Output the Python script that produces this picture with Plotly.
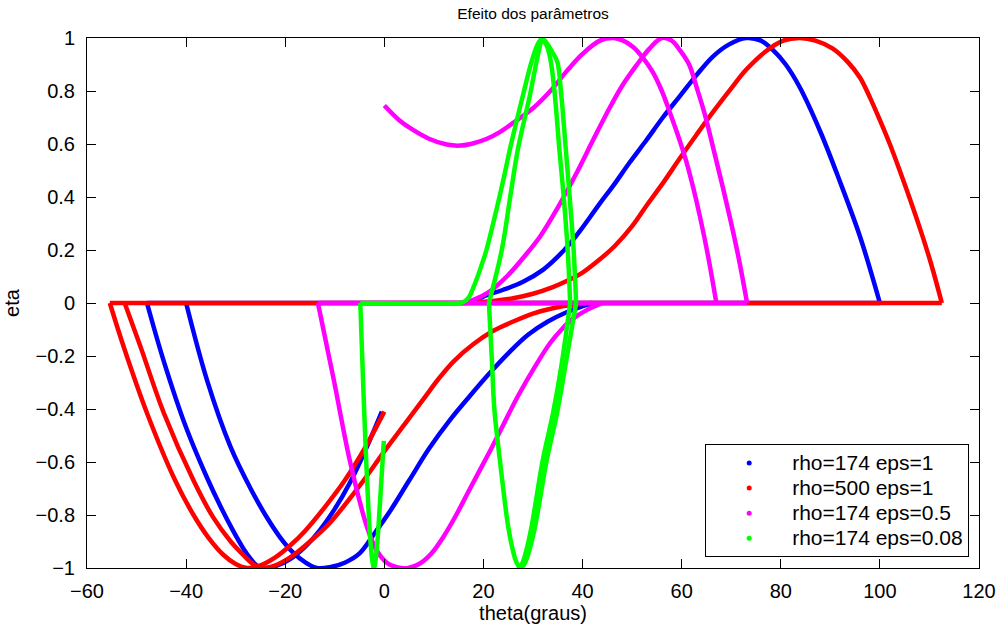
import plotly.graph_objects as go

# ---------------- data ----------------
# rho=174 eps=1  (blue)
blue_flat_theta = [-47.9, 100.0]
blue_flat_eta = [0.0, 0.0]
blue_a_theta = [-47.9, -44.5, -40.0, -36.0, -33.0, -30.5, -28.5, -27.0, -25.8, -24.5, -22.0, -19.0, -16.0, -13.0, -10.0, -7.0, -4.0, -0.5]
blue_a_eta = [0.0, -0.22, -0.47, -0.65, -0.77, -0.86, -0.925, -0.965, -0.99, -1.0, -0.993, -0.966, -0.92, -0.857, -0.777, -0.68, -0.563, -0.41]
blue_b_theta = [-40.0, -35.8, -31.1, -27.0, -24.0, -21.0, -18.5, -16.0, -13.6, -11.0, -8.0, -5.0, -2.0, 1.0, 5.0, 9.0, 13.3, 17.3, 21.0, 25.0, 29.0, 33.0, 37.0, 40.0, 42.0]
blue_b_eta = [0.0, -0.29, -0.54, -0.7, -0.8, -0.885, -0.94, -0.978, -1.0, -0.997, -0.98, -0.945, -0.87, -0.79, -0.67, -0.55, -0.44, -0.35, -0.27, -0.19, -0.12, -0.07, -0.033, -0.012, 0.0]
blue_up_theta = [16.0, 18.0, 20.7, 24.0, 28.0, 32.0, 35.0, 37.5, 40.0, 43.5, 46.1, 49.5, 52.9, 56.2, 59.6, 63.0, 66.3, 69.5, 73.0, 76.0, 78.4, 81.0, 83.8, 87.9, 91.9, 96.0, 100.0]
blue_up_eta = [0.0, 0.008, 0.03, 0.05, 0.08, 0.125, 0.175, 0.225, 0.285, 0.376, 0.44, 0.53, 0.615, 0.7, 0.78, 0.86, 0.93, 0.975, 1.0, 0.99, 0.955, 0.9, 0.815, 0.65, 0.46, 0.25, 0.0]

# rho=500 eps=1  (red)
red_flat_theta = [-55.4, 112.5]
red_flat_eta = [0.0, 0.0]
red_a_theta = [-55.4, -52.6, -47.9, -42.2, -38.5, -35.5, -32.5, -30.0, -27.7, -25.0, -22.0, -19.0, -16.0, -12.0, -8.0, -4.0, 0.0]
red_a_eta = [0.0, -0.165, -0.415, -0.67, -0.8, -0.885, -0.95, -0.985, -1.0, -0.99, -0.96, -0.915, -0.86, -0.77, -0.67, -0.55, -0.41]
red_b_theta = [-52.4, -49.2, -44.5, -38.5, -34.5, -31.0, -28.5, -26.5, -24.8, -22.0, -19.0, -15.0, -11.0, -5.0, 0.0, 4.0, 8.0, 11.0, 14.0, 18.0, 22.0, 26.0, 30.0, 34.0, 38.0, 42.0]
red_b_eta = [0.0, -0.165, -0.415, -0.67, -0.81, -0.9, -0.95, -0.985, -1.0, -0.99, -0.96, -0.9, -0.83, -0.69, -0.56, -0.46, -0.36, -0.285, -0.22, -0.155, -0.105, -0.07, -0.04, -0.02, -0.007, 0.0]
red_up_theta = [16.0, 22.0, 26.0, 30.0, 34.0, 37.0, 40.0, 43.5, 46.5, 50.0, 53.0, 56.5, 59.6, 63.0, 66.3, 70.0, 73.0, 77.0, 80.5, 83.8, 87.0, 90.5, 93.5, 96.0, 98.0, 100.0, 102.0, 104.2, 106.2, 108.2, 110.3, 112.5]
red_up_eta = [0.0, 0.008, 0.018, 0.035, 0.06, 0.085, 0.115, 0.165, 0.215, 0.29, 0.37, 0.46, 0.545, 0.635, 0.72, 0.81, 0.88, 0.95, 0.99, 1.0, 0.99, 0.96, 0.91, 0.85, 0.775, 0.69, 0.6, 0.49, 0.385, 0.275, 0.15, 0.0]

# rho=174 eps=0.5  (magenta)
mag_flat_theta = [-13.4, 73.2]
mag_flat_eta = [0.0, 0.0]
mag_low_theta = [-13.4, -10.2, -6.9, -3.5, -1.5, 0.5, 2.5, 4.8, 7.0, 9.5, 12.0, 14.5, 17.3, 21.0, 24.0, 27.0, 30.4, 33.5, 36.0, 38.0, 41.0, 44.0]
mag_low_eta = [0.0, -0.29, -0.6, -0.845, -0.935, -0.98, -0.997, -1.0, -0.985, -0.945, -0.88, -0.8, -0.7, -0.57, -0.46, -0.35, -0.24, -0.15, -0.095, -0.06, -0.025, 0.0]
mag_arc_theta = [0.0, 3.0, 5.8, 9.0, 12.6, 15.3, 18.0, 20.7, 23.3, 26.0, 30.0, 33.5, 36.8, 40.0, 43.5, 46.2, 48.2, 50.2, 52.2, 54.2, 56.0, 57.6, 59.3, 61.0, 62.4, 63.7, 65.3, 67.0]
mag_arc_eta = [0.745, 0.69, 0.653, 0.62, 0.598, 0.594, 0.603, 0.62, 0.645, 0.68, 0.735, 0.8, 0.875, 0.94, 0.99, 1.0, 0.99, 0.966, 0.925, 0.87, 0.8, 0.72, 0.63, 0.53, 0.43, 0.325, 0.18, 0.0]
mag_up_theta = [15.5, 18.0, 21.0, 24.7, 28.0, 31.4, 35.0, 38.5, 42.0, 45.0, 48.0, 51.0, 53.5, 56.0, 58.0, 59.6, 61.5, 63.0, 64.7, 66.3, 68.0, 69.7, 71.5, 73.2]
mag_up_eta = [0.0, 0.012, 0.04, 0.1, 0.17, 0.25, 0.36, 0.48, 0.61, 0.72, 0.82, 0.9, 0.96, 1.0, 0.99, 0.955, 0.9, 0.815, 0.71, 0.59, 0.46, 0.325, 0.17, 0.0]

# rho=174 eps=0.08  (green)
grn_v_theta = [-4.85, -4.3, -3.7, -3.2, -2.8, -2.4, -2.1, -1.8, -1.4, -1.0, -0.5, -0.1]
grn_v_eta = [0.0, -0.29, -0.58, -0.78, -0.9, -0.975, -1.0, -0.975, -0.9, -0.79, -0.64, -0.52]
grn_rise_theta = [-4.85, 15.0, 15.9, 17.0, 18.0, 19.3, 20.6, 22.6, 24.2, 25.4, 28.0, 29.7, 30.9, 31.8]
grn_rise_eta = [0.0, 0.0, 0.003, 0.02, 0.06, 0.125, 0.2, 0.35, 0.48, 0.585, 0.786, 0.91, 0.975, 1.0]
grn_down1_theta = [31.8, 32.6, 33.8, 34.9, 35.7, 36.6, 37.4, 38.2, 38.7]
grn_down1_eta = [1.0, 0.985, 0.95, 0.91, 0.786, 0.585, 0.4, 0.2, 0.0]
grn_low1_theta = [38.7, 36.5, 34.8, 32.8, 30.4, 29.3, 28.4, 27.5, 26.7, 25.9, 25.0, 23.3, 22.2, 21.7, 21.1]
grn_low1_eta = [0.0, -0.24, -0.42, -0.59, -0.845, -0.93, -0.98, -1.0, -0.98, -0.93, -0.845, -0.59, -0.4, -0.215, 0.0]
grn_rise2_theta = [21.1, 23.7, 25.4, 27.0, 29.4, 30.7, 31.4, 31.8]
grn_rise2_eta = [0.0, 0.2, 0.4, 0.585, 0.786, 0.91, 0.97, 1.0]
grn_down2_theta = [31.8, 32.8, 33.6, 34.4, 35.3, 36.2, 37.0, 37.5]
grn_down2_eta = [1.0, 0.97, 0.91, 0.786, 0.585, 0.4, 0.2, 0.0]
grn_low2_theta = [37.5, 35.7, 34.0, 32.0, 29.7, 28.7, 27.9, 27.2]
grn_low2_eta = [0.0, -0.24, -0.42, -0.59, -0.845, -0.93, -0.98, -1.0]

legend_names = ["rho=174 eps=1", "rho=500 eps=1", "rho=174 eps=0.5", "rho=174 eps=0.08"]
colors = ["#0000FF", "#FF0000", "#FF00FF", "#00FF00"]

x_tickvals = [-60, -40, -20, 0, 20, 40, 60, 80, 100, 120]
x_ticktext = ["\u221260", "\u221240", "\u221220", "0", "20", "40", "60", "80", "100", "120"]
y_tickvals = [-1, -0.8, -0.6, -0.4, -0.2, 0, 0.2, 0.4, 0.6, 0.8, 1]
y_ticktext = ["\u22121", "\u22120.8", "\u22120.6", "\u22120.4", "\u22120.2", "0", "0.2", "0.4", "0.6", "0.8", "1"]

series = [
    [(blue_flat_theta, blue_flat_eta), (blue_a_theta, blue_a_eta), (blue_b_theta, blue_b_eta), (blue_up_theta, blue_up_eta)],
    [(red_flat_theta, red_flat_eta), (red_a_theta, red_a_eta), (red_b_theta, red_b_eta), (red_up_theta, red_up_eta)],
    [(mag_flat_theta, mag_flat_eta), (mag_low_theta, mag_low_eta), (mag_arc_theta, mag_arc_eta), (mag_up_theta, mag_up_eta)],
    [(grn_v_theta, grn_v_eta), (grn_rise_theta, grn_rise_eta), (grn_down1_theta, grn_down1_eta),
     (grn_low1_theta, grn_low1_eta), (grn_rise2_theta, grn_rise2_eta), (grn_down2_theta, grn_down2_eta),
     (grn_low2_theta, grn_low2_eta)],
]

FONT = "Liberation Sans, Arial, Helvetica, sans-serif"

fig = go.Figure()
for segs, col in zip(series, colors):
    for tx, ey in segs:
        fig.add_trace(go.Scatter(
            x=tx, y=ey, mode="lines",
            line=dict(color=col, width=4.5, shape="spline", smoothing=1.0),
            showlegend=False, hoverinfo="skip"))

for name, col in zip(legend_names, colors):
    fig.add_trace(go.Scatter(
        x=[None], y=[None], mode="markers",
        name='<span style="font-size:21px">' + name + '</span>',
        marker=dict(color=col, size=5)))

fig.update_layout(
    width=1002, height=628,
    margin=dict(l=87, r=23, t=38, b=60, autoexpand=False),
    paper_bgcolor="white", plot_bgcolor="white",
    font=dict(family=FONT, size=20, color="black"),
    title=dict(text="Efeito dos parâmetros", x=0.532, xanchor="center",
               y=0.978, yanchor="middle", font=dict(size=15.5, family=FONT)),
    showlegend=True,
    legend=dict(x=0.989, y=0.02, xanchor="right", yanchor="bottom",
                bgcolor="white", bordercolor="black", borderwidth=1,
                font=dict(size=17, family=FONT), itemwidth=76,
                traceorder="normal"),
)
fig.update_xaxes(
    range=[-60, 120], tickvals=x_tickvals, ticktext=x_ticktext,
    ticks="inside", ticklen=9, tickcolor="black", mirror="allticks",
    showline=True, linecolor="black", linewidth=1,
    showgrid=False, zeroline=False, ticklabelstandoff=5, automargin=False,
    tickfont=dict(size=20),
    title=dict(text="theta(graus)", standoff=2, font=dict(size=20)),
)
fig.update_yaxes(
    range=[-1, 1], tickvals=y_tickvals, ticktext=y_ticktext,
    ticks="inside", ticklen=9, tickcolor="black", mirror="allticks",
    showline=True, linecolor="black", linewidth=1,
    showgrid=False, zeroline=False, ticklabelstandoff=7, automargin=False,
    tickfont=dict(size=20),
    title=dict(text="eta", standoff=10, font=dict(size=20)),
)

fig.write_html("out.html")
